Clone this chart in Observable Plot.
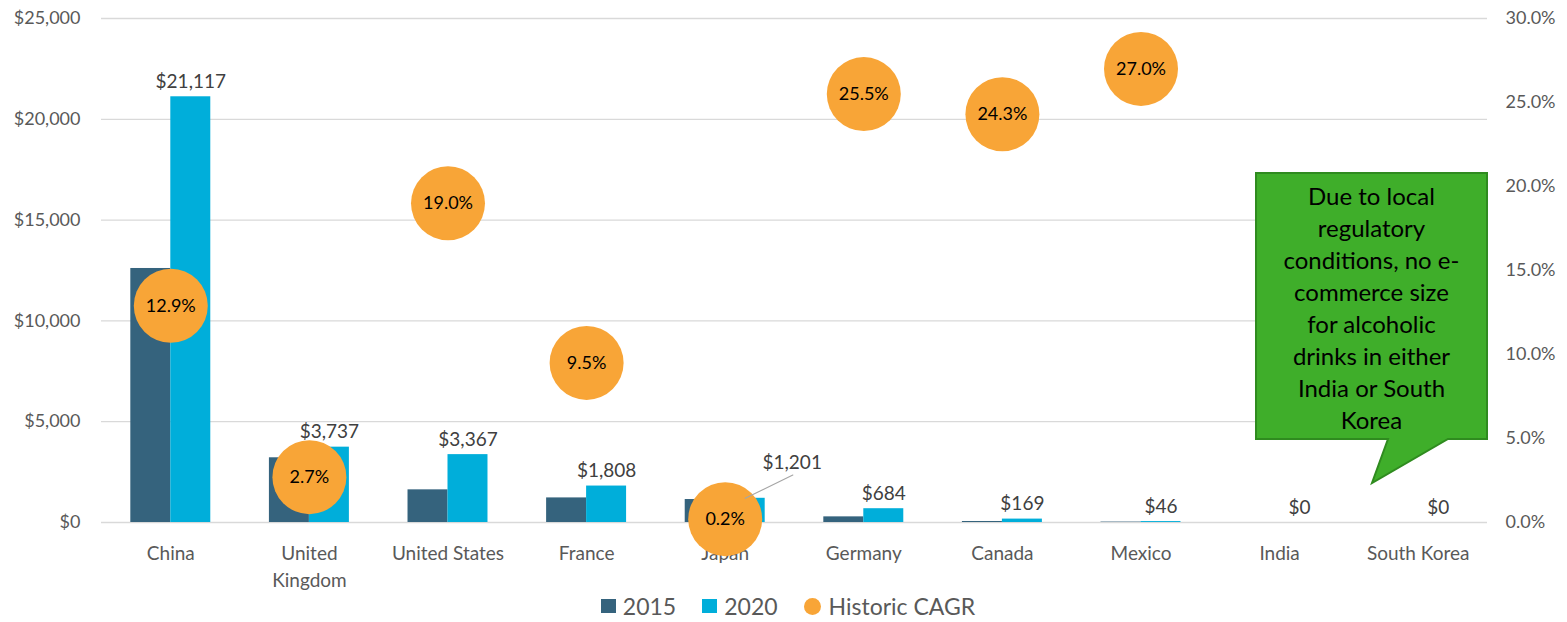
<!DOCTYPE html>
<html>
<head>
<meta charset="utf-8">
<script src="https://cdn.jsdelivr.net/npm/d3@7"></script>
<script src="https://cdn.jsdelivr.net/npm/@observablehq/plot@0.6"></script>
<style>
  html, body { margin: 0; padding: 0; background: #fff; }
  body { width: 1567px; height: 622px; overflow: hidden; font-family: Lato, "Open Sans", sans-serif; }
  #wrap { position: relative; width: 1567px; }
  #callout { position: absolute; left: 0; top: 0; pointer-events: none; }
  #legend { display: flex; justify-content: center; align-items: center; height: 32px; padding-left: 9px;
            font-size: 23px; color: #595959; }
  #legend .item { display: flex; align-items: center; margin: 0 13px; }
  #legend .sw { width: 15px; height: 14px; margin-right: 7px; }
  #legend .ci { width: 17px; height: 17px; border-radius: 50%; margin-right: 8px; }
</style>
</head>
<body>
<div id="wrap"></div>
<div id="legend"></div>
<script>
// ---- data ----
const countries = ["China", "United Kingdom", "United States", "France", "Japan", "Germany", "Canada", "Mexico", "India", "South Korea"];
const xLabels = ["China", "United\nKingdom", "United States", "France", "Japan", "Germany", "Canada", "Mexico", "India", "South Korea"];
const sales2015 = [12600, 3210, 1620, 1220, 1140, 280, 50, 20, 0, 0];
const sales2020 = [21117, 3737, 3367, 1808, 1201, 684, 169, 46, 0, 0];
const cagr = [12.9, 2.7, 19.0, 9.5, 0.2, 25.5, 24.3, 27.0, null, null];
const leftTicks = [0, 5000, 10000, 15000, 20000, 25000];
const rightTicks = [0, 5, 10, 15, 20, 25, 30];
const seriesNames = ["2015", "2020", "Historic CAGR"];
const calloutLines = ["Due to local", "regulatory", "conditions, no e-", "commerce size", "for alcoholic", "drinks in either", "India or South", "Korea"];

// ---- styling ----
const C2015 = "#35637D", C2020 = "#00AEDA", CORANGE = "#F8A537";
const W = 1567, H = 590, ML = 101, MR = 80, MT = 18, MB = 68;
const yMax = 25000, pMax = 30;
const k = yMax / pMax; // maps percentage onto the dollar axis

const rows = countries.map((c, i) => ({country: c, v2015: sales2015[i], v2020: sales2020[i], cagr: cagr[i]}));
const cagrRows = rows.filter(d => d.cagr != null);
const labelRows = rows.filter(d => d.country !== "Japan");
const japanRows = rows.filter(d => d.country === "Japan");

const xOpts = {type: "band", domain: countries, paddingInner: 0.423, paddingOuter: 0.2115, round: false};
const xs = Plot.scale({x: {...xOpts, range: [ML, W - MR]}});
const bw = xs.bandwidth || 80;
const fmt$ = d => "$" + d3.format(",")(d);

const chart = Plot.plot({
  width: W, height: H,
  marginLeft: ML, marginRight: MR, marginTop: MT, marginBottom: MB,
  style: {fontFamily: "Lato, 'Open Sans', sans-serif", background: "#fff"},
  x: {...xOpts, axis: null, label: null},
  y: {domain: [0, yMax], axis: null, label: null},
  marks: [
    Plot.gridY(leftTicks, {stroke: "#d9d9d9", strokeOpacity: 1, strokeWidth: 1.3}),
    Plot.barY(rows, {x: "country", y: "v2015", fill: C2015, insetLeft: 0, insetRight: bw / 2}),
    Plot.barY(rows, {x: "country", y: "v2020", fill: C2020, insetLeft: bw / 2, insetRight: 0}),
    Plot.axisY(leftTicks, {anchor: "left", tickSize: 0, tickPadding: 21, tickFormat: fmt$, fontSize: 18, color: "#595959", label: null}),
    Plot.axisY(rightTicks.map(p => p * k), {anchor: "right", tickSize: 0, tickPadding: 18,
      tickFormat: d => (d / k).toFixed(1) + "%", fontSize: 18, color: "#595959", label: null}),
    Plot.axisX({anchor: "bottom", tickSize: 0, tickPadding: 19, fontSize: 19, color: "#595959", lineHeight: 1.4,
      label: null, tickFormat: d => xLabels[countries.indexOf(d)]}),
    Plot.text(labelRows, {x: "country", y: "v2020", text: d => fmt$(d.v2020), dx: bw / 4, dy: -9,
      lineAnchor: "bottom", fontSize: 19, fill: "#404040"}),
    Plot.text(japanRows, {x: "country", y: "v2020", text: d => fmt$(d.v2020), dx: bw / 4 + 47, dy: -29,
      lineAnchor: "bottom", fontSize: 19, fill: "#404040"}),
    Plot.dot(cagrRows, {x: "country", y: d => d.cagr * k, r: 37, fill: CORANGE}),
    Plot.text(cagrRows, {x: "country", y: d => d.cagr * k, text: d => d.cagr.toFixed(1) + "%", fontSize: 18, fill: "#000"}),
    Plot.vector(japanRows, {x: "country", y: "v2020", dx: bw / 4, anchor: "start", length: 53, rotate: 64,
      stroke: "#a6a6a6", strokeWidth: 1.2,
      shape: {draw(context, l) { context.moveTo(0, 0); context.lineTo(0, -l); }}})
  ]
});
document.getElementById("wrap").appendChild(chart);

// ---- callout annotation ----
const ov = d3.select("#wrap").append("svg").attr("id", "callout").attr("width", W).attr("height", H);
ov.append("path")
  .attr("d", "M1256,173H1487V439H1448L1372,483L1388,439H1256Z")
  .attr("fill", "#3FAE2A").attr("stroke", "#2F8B1F").attr("stroke-width", 2);
ov.append("text")
  .attr("text-anchor", "middle")
  .attr("font-family", "Lato, 'Open Sans', sans-serif")
  .attr("font-size", 24)
  .attr("fill", "#000")
  .selectAll("tspan").data(calloutLines).join("tspan")
  .attr("x", 1371.5).attr("y", (d, i) => 197 + i * 32).attr("dy", "0.35em").text(d => d);

// ---- legend ----
const legend = d3.select("#legend");
const colors = [C2015, C2020, CORANGE];
seriesNames.forEach((n, i) => {
  const it = legend.append("div").attr("class", "item");
  it.append("div").attr("class", i < 2 ? "sw" : "ci").style("background", colors[i]);
  it.append("span").text(n);
});
</script>
</body>
</html>
